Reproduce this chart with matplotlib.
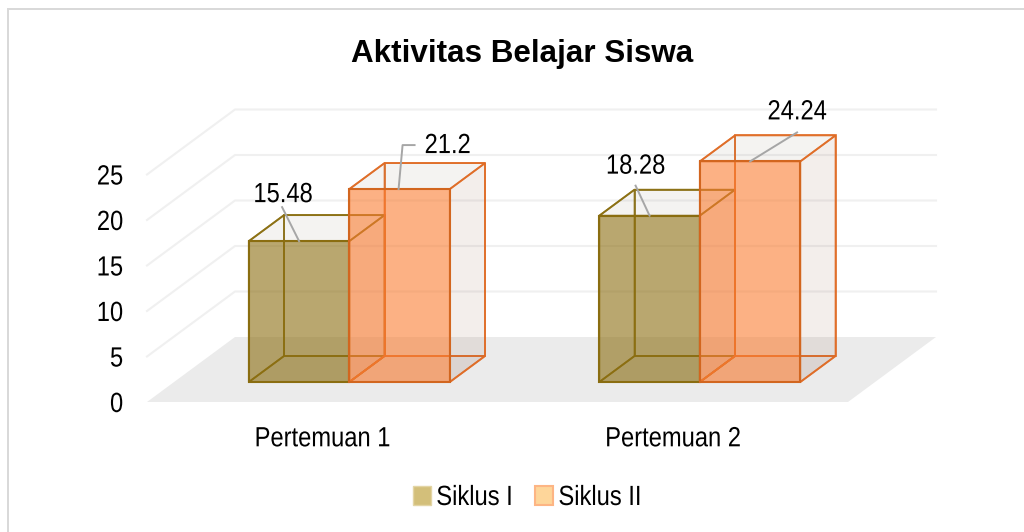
import matplotlib
matplotlib.use("Agg")
import matplotlib.pyplot as plt
from matplotlib.patches import Polygon, Patch, Rectangle
from matplotlib.patheffects import AbstractPathEffect
from matplotlib.transforms import Affine2D

categories = ["Pertemuan 1", "Pertemuan 2"]
series_names = ["Siklus I", "Siklus II"]
siklus_1 = [15.48, 18.28]
siklus_2 = [21.2, 24.24]
y_ticks = [0, 5, 10, 15, 20, 25]
title = "Aktivitas Belajar Siswa"

W, H = 1024, 532
plt.rcParams["font.family"] = ["Liberation Sans", "DejaVu Sans"]


class Condense(AbstractPathEffect):
    """Draw a text's glyphs squeezed horizontally about its left, centre or right edge."""

    def __init__(self, sx=0.854, anchor="center"):
        super().__init__()
        self.sx, self.anchor = sx, anchor

    def draw_path(self, renderer, gc, tpath, affine, rgbFace=None):
        ext = tpath.get_extents(affine)
        ax_ = {"left": ext.x0, "center": (ext.x0 + ext.x1) / 2, "right": ext.x1}[self.anchor]
        t = affine + Affine2D().translate(-ax_, 0).scale(self.sx, 1).translate(ax_, 0)
        renderer.draw_path(gc, tpath, t, rgbFace)


fig = plt.figure(figsize=(W / 100, H / 100), dpi=100, facecolor="white")
# frame shows only at the left and top: the picture is cropped on the other two sides
fig.add_artist(Rectangle((8 / W, -0.02), 1.1, 1.02 - 9 / H, transform=fig.transFigure,
                         fill=False, ec="#d9d9d9", lw=1.44))

ax = fig.add_axes([147 / W, (H - 402) / H, 701 / W, 227.5 / H])
ax.set_xlim(-0.5, 1.5)
ax.set_ylim(0, 25)
ax.patch.set_alpha(0)
for s in ax.spines.values():
    s.set_visible(False)

PX_X = 701 / 2
PX_Y = 227.5 / 25
DEPTH_X = 88 / PX_X
DEPTH_Y = 65 / PX_Y


def P(x, v, d):
    return (x + d * DEPTH_X, v + d * DEPTH_Y)


def poly(pts, fc, ec="none", lw=0, z=2):
    ax.add_patch(Polygon(pts, closed=True, fc=fc, ec=ec, lw=lw, joinstyle="miter", clip_on=False, zorder=z))


poly([P(-0.5, 0, 0), P(1.5, 0, 0), P(1.5, 0, 1), P(-0.5, 0, 1)], "#ebebeb", z=1)
for v in y_ticks[1:]:
    a, b, c = P(-0.5, v, 0), P(-0.5, v, 1), P(1.5, v, 1)
    ax.plot([a[0], b[0], c[0]], [a[1], b[1], c[1]], color="#f0f0f0", lw=1.5, clip_on=False, zorder=1)

BAR_W = 100.5 / PX_X
D0, D1 = 20 / 65, 46 / 65
styles = [
    dict(base=(139 / 255, 109 / 255, 16 / 255), edge="#8a6d10", inner=(0.54, 0.43, 0.06, 0.85)),
    dict(base=(250 / 255, 125 / 255, 50 / 255), edge="#d2661f", inner=(0.88, 0.42, 0.14, 0.85)),
]


def bar(x0, v, st, z):
    x1 = x0 + BAR_W
    e, n = st["edge"], st["inner"]
    none = (1, 1, 1, 0)
    poly([P(x0, 0, D1), P(x1, 0, D1), P(x1, v, D1), P(x0, v, D1)], none, n, 1.3, z)
    poly([P(x0, 0, D0), P(x1, 0, D0), P(x1, 0, D1), P(x0, 0, D1)], (0.45, 0.35, 0.25, 0.05), n, 1.3, z)
    poly([P(x0, 0, D0), P(x0, 0, D1), P(x0, v, D1), P(x0, v, D0)], none, n, 1.3, z)
    poly([P(x1, 0, D0), P(x1, 0, D1), P(x1, v, D1), P(x1, v, D0)], (0.55, 0.35, 0.25, 0.10), n, 1.3, z)
    poly([P(x0, v, D0), P(x1, v, D0), P(x1, v, D1), P(x0, v, D1)], (0.55, 0.5, 0.42, 0.09), n, 1.3, z)
    poly([P(x0, 0, D0), P(x1, 0, D0), P(x1, v, D0), P(x0, v, D0)], st["base"] + (0.6,), e, 1.5, z + 0.5)


label_fmt = [
    [((-16, 46), [(-17, 34), (0, 0)]), ((48, 43), [(15, 44), (3, 44), (-1, 0)])],
    [((-14, 49), [(-14, 30), (0, 0)]), ((47, 49), [(47, 29), (0, 0)])],
]
for i in range(len(categories)):
    for j, vals in enumerate([siklus_1, siklus_2]):
        x0 = i - BAR_W + j * BAR_W
        bar(x0, vals[i], styles[j], 3 + j)
        anchor = P(x0 + BAR_W / 2, vals[i], D0)
        (lx, ly), path = label_fmt[i][j]
        ax.annotate(str(vals[i]), xy=anchor, xytext=(lx, ly), textcoords="offset pixels",
                    ha="center", va="center", fontsize=20, color="black", annotation_clip=False, zorder=9,
                    path_effects=[Condense()])
        xs = [anchor[0] + p[0] / PX_X for p in path]
        ys = [anchor[1] + p[1] / PX_Y for p in path]
        ax.plot(xs, ys, color="#a6a6a6", lw=1.4, clip_on=False, zorder=8)

ax.set_xticks(range(len(categories)), categories)
ax.set_yticks(y_ticks)
ax.tick_params(axis="x", length=0, pad=17.5, labelsize=20)
ax.tick_params(axis="y", length=0, pad=17, labelsize=20)
for t in ax.get_xticklabels():
    t.set_path_effects([Condense()])
for t in ax.get_yticklabels():
    t.set_path_effects([Condense(anchor="right")])

fig.text(522 / W, 1 - 54 / H, title, ha="center", va="center", fontsize=22.6, fontweight="bold")

handles = [Patch(fc="#d3bf7a", ec="#e3d5a5", lw=1), Patch(fc="#fed69a", ec="#fdb584", lw=1.5)]
leg = fig.legend(handles, series_names, loc="center", bbox_to_anchor=(534 / W, 1 - 498 / H), ncol=2, frameon=False,
                 fontsize=20, handlelength=0.65, handleheight=0.65, handletextpad=0.2, columnspacing=0.32,
                 borderpad=0)
for t in leg.get_texts():
    t.set_path_effects([Condense(anchor="left")])

fig.savefig("out.png", dpi=100)
